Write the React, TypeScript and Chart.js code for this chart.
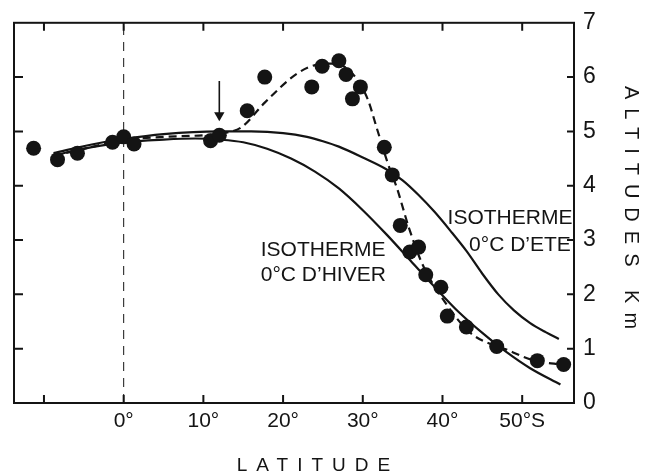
import { useEffect, useRef } from 'react';
import Chart from 'chart.js/auto';

// ---- data ----
const latTicks = [-10, 0, 10, 20, 30, 40, 50];
const latTickLabels = ['', '0°', '10°', '20°', '30°', '40°', '50°S'];
const altTicks = [0, 1, 2, 3, 4, 5, 6, 7];

// observed 0°C altitudes (dots)
const obsLat = [-11.3, -8.3, -5.8, -1.4, 0.0, 1.3, 10.9, 12.0, 15.5, 17.7, 23.6, 24.9, 27.0, 27.9, 29.7, 28.7, 32.7, 33.7, 34.7, 35.9, 37.0, 37.9, 39.8, 40.6, 43.0, 46.8, 51.9, 55.2];
const obsAlt = [4.69, 4.48, 4.6, 4.8, 4.9, 4.77, 4.83, 4.93, 5.38, 6.0, 5.82, 6.2, 6.3, 6.05, 5.82, 5.6, 4.71, 4.2, 3.27, 2.78, 2.87, 2.36, 2.13, 1.6, 1.4, 1.04, 0.78, 0.71];

// dashed curve through the observations
const fitLat = [-8.8, -5, 0, 5, 10, 13, 14.8, 17.7, 21.8, 24.3, 26.5, 28.9, 30.6, 31.8, 33.1, 34.3, 35.8, 37.5, 40.2, 43.5, 48.1, 51.8, 55.1];
const fitAlt = [4.55, 4.68, 4.84, 4.9, 4.93, 4.98, 5.08, 5.53, 6.07, 6.23, 6.25, 6.03, 5.6, 5.04, 4.43, 3.95, 3.22, 2.55, 1.88, 1.29, 0.98, 0.77, 0.71];

// summer 0°C isotherm
const summerLat = [-8.8, -4, 0, 5, 12, 16, 20, 23, 25, 27, 30, 33, 35, 37, 39, 41, 43, 45, 47, 49, 51, 53, 54.6];
const summerAlt = [4.6, 4.76, 4.86, 4.95, 5.0, 5.0, 4.97, 4.9, 4.82, 4.72, 4.52, 4.3, 4.1, 3.83, 3.52, 3.17, 2.8, 2.38, 2.0, 1.7, 1.47, 1.3, 1.18];

// winter 0°C isotherm
const winterLat = [-8.8, -4, 0, 5, 9, 12, 15, 18, 21, 24, 27, 30, 33, 36, 39, 42, 45, 48, 51, 54.8];
const winterAlt = [4.56, 4.71, 4.8, 4.85, 4.87, 4.85, 4.8, 4.68, 4.5, 4.26, 3.95, 3.55, 3.1, 2.62, 2.14, 1.68, 1.29, 0.94, 0.64, 0.34];

const arrowLat = [12, 12];
const arrowAlt = [5.93, 5.3];

const zeroLat = [0, 0];
const zeroAlt = [0, 7];

const pts = (xs: number[], ys: number[]) => xs.map((x, i) => ({ x, y: ys[i] }));

const INK = '#141414';
const FONT = '"Liberation Sans", "DejaVu Sans", sans-serif';

const framePlugin = {
  id: 'frameAndText',
  afterDraw(chart: any) {
    const { ctx, chartArea: a, scales } = chart;
    const xs = scales.x;
    const ys = scales.y;
    ctx.save();
    ctx.strokeStyle = INK;
    ctx.lineWidth = 2;
    ctx.strokeRect(a.left, a.top, a.right - a.left, a.bottom - a.top);
    ctx.beginPath();
    latTicks.forEach((v) => {
      const px = xs.getPixelForValue(v);
      ctx.moveTo(px, a.bottom);
      ctx.lineTo(px, a.bottom - 8);
      ctx.moveTo(px, a.top);
      ctx.lineTo(px, a.top + 8);
    });
    altTicks.slice(1, -1).forEach((v) => {
      const py = ys.getPixelForValue(v);
      ctx.moveTo(a.left, py);
      ctx.lineTo(a.left + 9, py);
      ctx.moveTo(a.right, py);
      ctx.lineTo(a.right - 7, py);
    });
    ctx.stroke();

    // curve labels
    ctx.fillStyle = INK;
    ctx.font = `21px ${FONT}`;
    ctx.textBaseline = 'middle';
    ctx.textAlign = 'left';
    ctx.fillText('ISOTHERME', xs.getPixelForValue(17.2), ys.getPixelForValue(2.82));
    ctx.fillText('0°C D\u2019HIVER', xs.getPixelForValue(17.2), ys.getPixelForValue(2.36));
    ctx.textAlign = 'right';
    ctx.fillText('ISOTHERME', xs.getPixelForValue(56.3), ys.getPixelForValue(3.4));
    ctx.fillText('0°C D\u2019ETE', xs.getPixelForValue(56.1), ys.getPixelForValue(2.9));

    // axis titles
    ctx.font = `19px ${FONT}`;
    (ctx as any).letterSpacing = '9px';
    ctx.textAlign = 'center';
    ctx.fillText('LATITUDE', 318, 466);
    ctx.translate(631, 212);
    ctx.rotate(Math.PI / 2);
    ctx.font = `20px ${FONT}`;
    (ctx as any).letterSpacing = '9px';
    ctx.fillText('ALTITUDES Km', 0, 0);
    ctx.restore();
  },
};

export default function App() {
  const ref = useRef<HTMLCanvasElement | null>(null);

  useEffect(() => {
    if (!ref.current) return;
    const chart = new Chart(ref.current, {
      type: 'scatter',
      data: {
        datasets: [
          {
            label: 'observations',
            data: pts(obsLat, obsAlt),
            pointRadius: 7.5,
            pointBackgroundColor: INK,
            pointBorderColor: INK,
            pointBorderWidth: 0,
            showLine: false,
          },
          {
            label: 'fit',
            data: pts(fitLat, fitAlt),
            showLine: true,
            borderColor: INK,
            borderWidth: 2.2,
            borderDash: [8, 5],
            pointRadius: 0,
            cubicInterpolationMode: 'monotone',
          },
          {
            label: 'summer',
            data: pts(summerLat, summerAlt),
            showLine: true,
            borderColor: INK,
            borderWidth: 2.2,
            pointRadius: 0,
            cubicInterpolationMode: 'monotone',
          },
          {
            label: 'winter',
            data: pts(winterLat, winterAlt),
            showLine: true,
            borderColor: INK,
            borderWidth: 2.2,
            pointRadius: 0,
            cubicInterpolationMode: 'monotone',
          },
          {
            label: 'arrow',
            data: pts(arrowLat, arrowAlt),
            showLine: true,
            borderColor: INK,
            borderWidth: 1.6,
            pointRadius: [0, 6],
            pointStyle: 'triangle',
            rotation: 180,
            pointBackgroundColor: INK,
            pointBorderColor: INK,
            pointBorderWidth: 0,
          },
          {
            label: 'equator',
            data: pts(zeroLat, zeroAlt),
            showLine: true,
            borderColor: INK,
            borderWidth: 1,
            borderDash: [9, 7],
            pointRadius: 0,
          },
        ],
      } as any,
      options: {
        animation: false,
        responsive: false,
        devicePixelRatio: 1,
        layout: { padding: { left: 14, top: 18, right: 0, bottom: 0 } },
        plugins: { legend: { display: false }, tooltip: { enabled: false } },
        scales: {
          x: {
            type: 'linear',
            position: 'bottom',
            min: -13.76,
            max: 56.5,
            grid: { display: false, drawTicks: false },
            border: { display: false },
            afterBuildTicks: (s: any) => {
              s.ticks = latTicks.map((v) => ({ value: v }));
            },
            afterFit: (s: any) => {
              s.height = 73;
            },
            ticks: {
              color: INK,
              padding: 6,
              maxRotation: 0,
              autoSkip: false,
              font: { family: FONT, size: 21 },
              callback: (v: any) => {
                const i = latTicks.indexOf(Number(v));
                return i >= 0 ? latTickLabels[i] : '';
              },
            },
          },
          y: {
            type: 'linear',
            position: 'right',
            min: 0,
            max: 7,
            grid: { display: false, drawTicks: false },
            border: { display: false },
            afterBuildTicks: (s: any) => {
              s.ticks = altTicks.map((v) => ({ value: v }));
            },
            afterFit: (s: any) => {
              s.width = 76;
            },
            ticks: {
              color: INK,
              padding: 9,
              font: { family: FONT, size: 23 },
            },
          },
        },
      } as any,
      plugins: [framePlugin],
    });
    return () => chart.destroy();
  }, []);

  return (
    <div style={{ position: 'fixed', left: 0, top: 0, width: 650, height: 476, background: '#fff' }}>
      <canvas ref={ref} width={650} height={476} style={{ width: 650, height: 476 }} />
    </div>
  );
}
